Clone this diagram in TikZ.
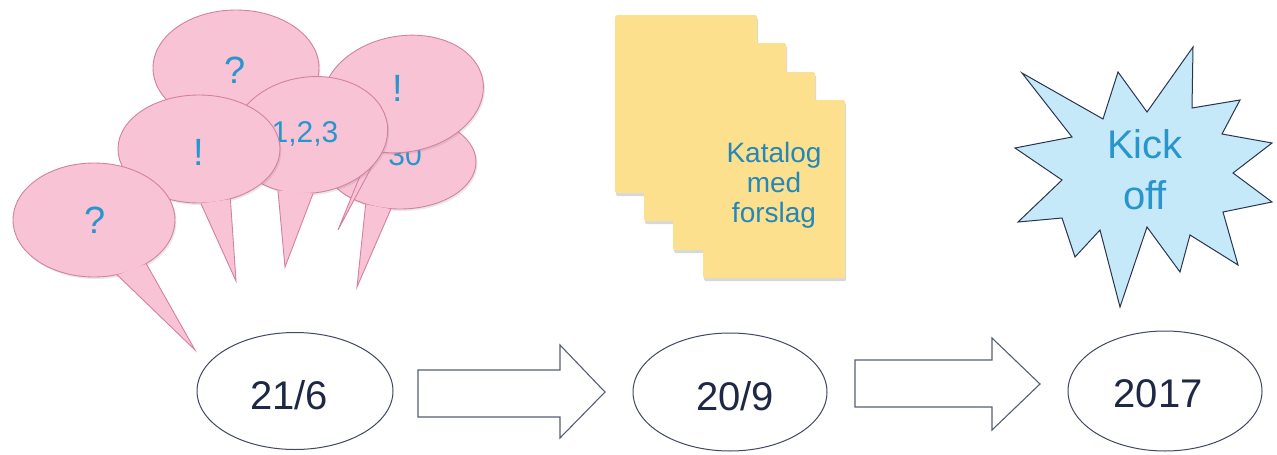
\documentclass[tikz,border=0pt]{standalone}
\usepackage{fontspec}
\setmainfont{Liberation Sans}
\usetikzlibrary{shapes.geometric,shadows}
\definecolor{pinkfill}{RGB}{249,195,214}
\definecolor{pinkline}{RGB}{212,128,160}
\definecolor{txtblue}{RGB}{40,150,205}
\definecolor{navy}{RGB}{30,40,70}
\definecolor{pagefill}{RGB}{253,224,142}
\definecolor{starfill}{RGB}{198,233,249}
\definecolor{starline}{RGB}{40,52,82}
\definecolor{arrowline}{RGB}{85,95,115}
\begin{document}
\begin{tikzpicture}[x=1pt,y=-1pt,
  dateell/.style={ellipse, draw=navy!85, line width=1pt, fill=white, inner sep=0pt},
  datetext/.style={text=navy, font=\fontsize{40}{48}\selectfont, inner sep=0pt},
  bubble/.style={ellipse, fill=pinkfill, draw=pinkline, line width=0.9pt, inner sep=0pt,
    drop shadow={shadow xshift=1.5pt, shadow yshift=-2pt, opacity=0.18}},
  tail/.style={fill=pinkfill, draw=pinkline, line width=0.9pt, line join=miter},
  bubtext/.style={text=txtblue, font=\fontsize{38}{44}\selectfont, inner sep=0pt},
  bubsmall/.style={text=txtblue, font=\fontsize{30}{36}\selectfont, inner sep=0pt},
  page/.style={rectangle, fill=pagefill, rounded corners=2pt, inner sep=0pt,
    minimum width=142pt, minimum height=178pt, anchor=north west,
    drop shadow={shadow xshift=1pt, shadow yshift=-3pt, opacity=0.3}},
  pagetext/.style={text=txtblue!90!black, font=\fontsize{28}{30}\selectfont, align=center, inner sep=0pt},
  blockarrow/.style={draw=arrowline, line width=1.1pt, fill=white, line join=miter},
  star/.style={fill=starfill, draw=starline, line width=1pt, line join=miter},
  startext/.style={text=txtblue, font=\fontsize{40}{51}\selectfont, align=center, inner sep=0pt},
  ]
\useasboundingbox (0,0) rectangle (1277,455);
\fill[white] (0,0) rectangle (1277,455);

% speech bubbles (back to front)
\node[bubble, minimum width=166pt, minimum height=116pt] (bq1) at (236,68) {};
\node[bubtext] (tq1) at (235,70) {?};

\node[bubble, minimum width=152pt, minimum height=94pt] (b30) at (400,162) {};
\filldraw[tail] (b30.231) -- (357,287) -- (b30.259);
\node[bubsmall] (t30) at (405,155) {30};

\node[bubble, rotate=10, minimum width=162pt, minimum height=116pt] (bx1) at (403,94) {};
\coordinate (tipx1) at (338,230);
\filldraw[tail] (bx1.230) -- (tipx1) -- (bx1.238);
\node[bubtext] (tx1) at (398,88) {!};

\node[bubble, rotate=8, minimum width=156pt, minimum height=116pt] (b123) at (310,135) {};
\coordinate (tip123) at (285,267);
\filldraw[tail] (b123.232) -- (tip123) -- (b123.265);
\node[bubsmall] (t123) at (305,134) {1,2,3};

\node[bubble, minimum width=162pt, minimum height=108pt] (bx2) at (199,149) {};
\coordinate (tipx2) at (236,281);
\filldraw[tail] (bx2.272) -- (tipx2) -- (bx2.302);
\node[bubtext] (tx2) at (199,152) {!};

\node[bubble, minimum width=162pt, minimum height=114pt] (bq2) at (94,220) {};
\coordinate (tipq2) at (195,350);
\filldraw[tail] (bq2.293) -- (tipq2) -- (bq2.320);
\node[bubtext] (tq2) at (95,220) {?};

% pages
\node[page] (p1) at (615,15) {};
\node[page] (p2) at (644,43) {};
\node[page] (p3) at (673,72) {};
\node[page] (p4) at (703,100) {};
\node[pagetext] (ptext) at (774,185) {Katalog\\med\\forslag};

% starburst
\draw[star] (1022,73) -- (1103,119) -- (1118,72) -- (1147,112) -- (1193,47) -- (1192,108)
  -- (1240,100) -- (1222,134) -- (1272,143) -- (1233,173) -- (1272,202) -- (1223,212)
  -- (1238,265) -- (1190,235) -- (1180,272) -- (1147,227) -- (1120,307) -- (1100,230)
  -- (1075,257) -- (1062,218) -- (1018,222) -- (1062,180) -- (1015,148) -- (1072,137) -- cycle;
\node[startext] (kick) at (1145,170) {Kick\\off};

% dates
\node[dateell, minimum width=196pt, minimum height=117pt] (d1) at (295,391) {};
\node[datetext] (t1) at (289,395) {21/6};
\node[dateell, minimum width=194pt, minimum height=118pt] (d2) at (730,392) {};
\node[datetext] (t2) at (735,396) {20/9};
\node[dateell, minimum width=194pt, minimum height=120pt] (d3) at (1165,391) {};
\node[datetext] (t3) at (1158,394) {2017};

% block arrows
\draw[blockarrow] (418,370) -- (560,370) -- (560,345) -- (605,392) -- (560,438)
  -- (560,417) -- (418,417) -- cycle;
\draw[blockarrow] (855,360) -- (992,360) -- (992,338) -- (1040,384) -- (992,430)
  -- (992,407) -- (855,407) -- cycle;
\end{tikzpicture}
\end{document}
